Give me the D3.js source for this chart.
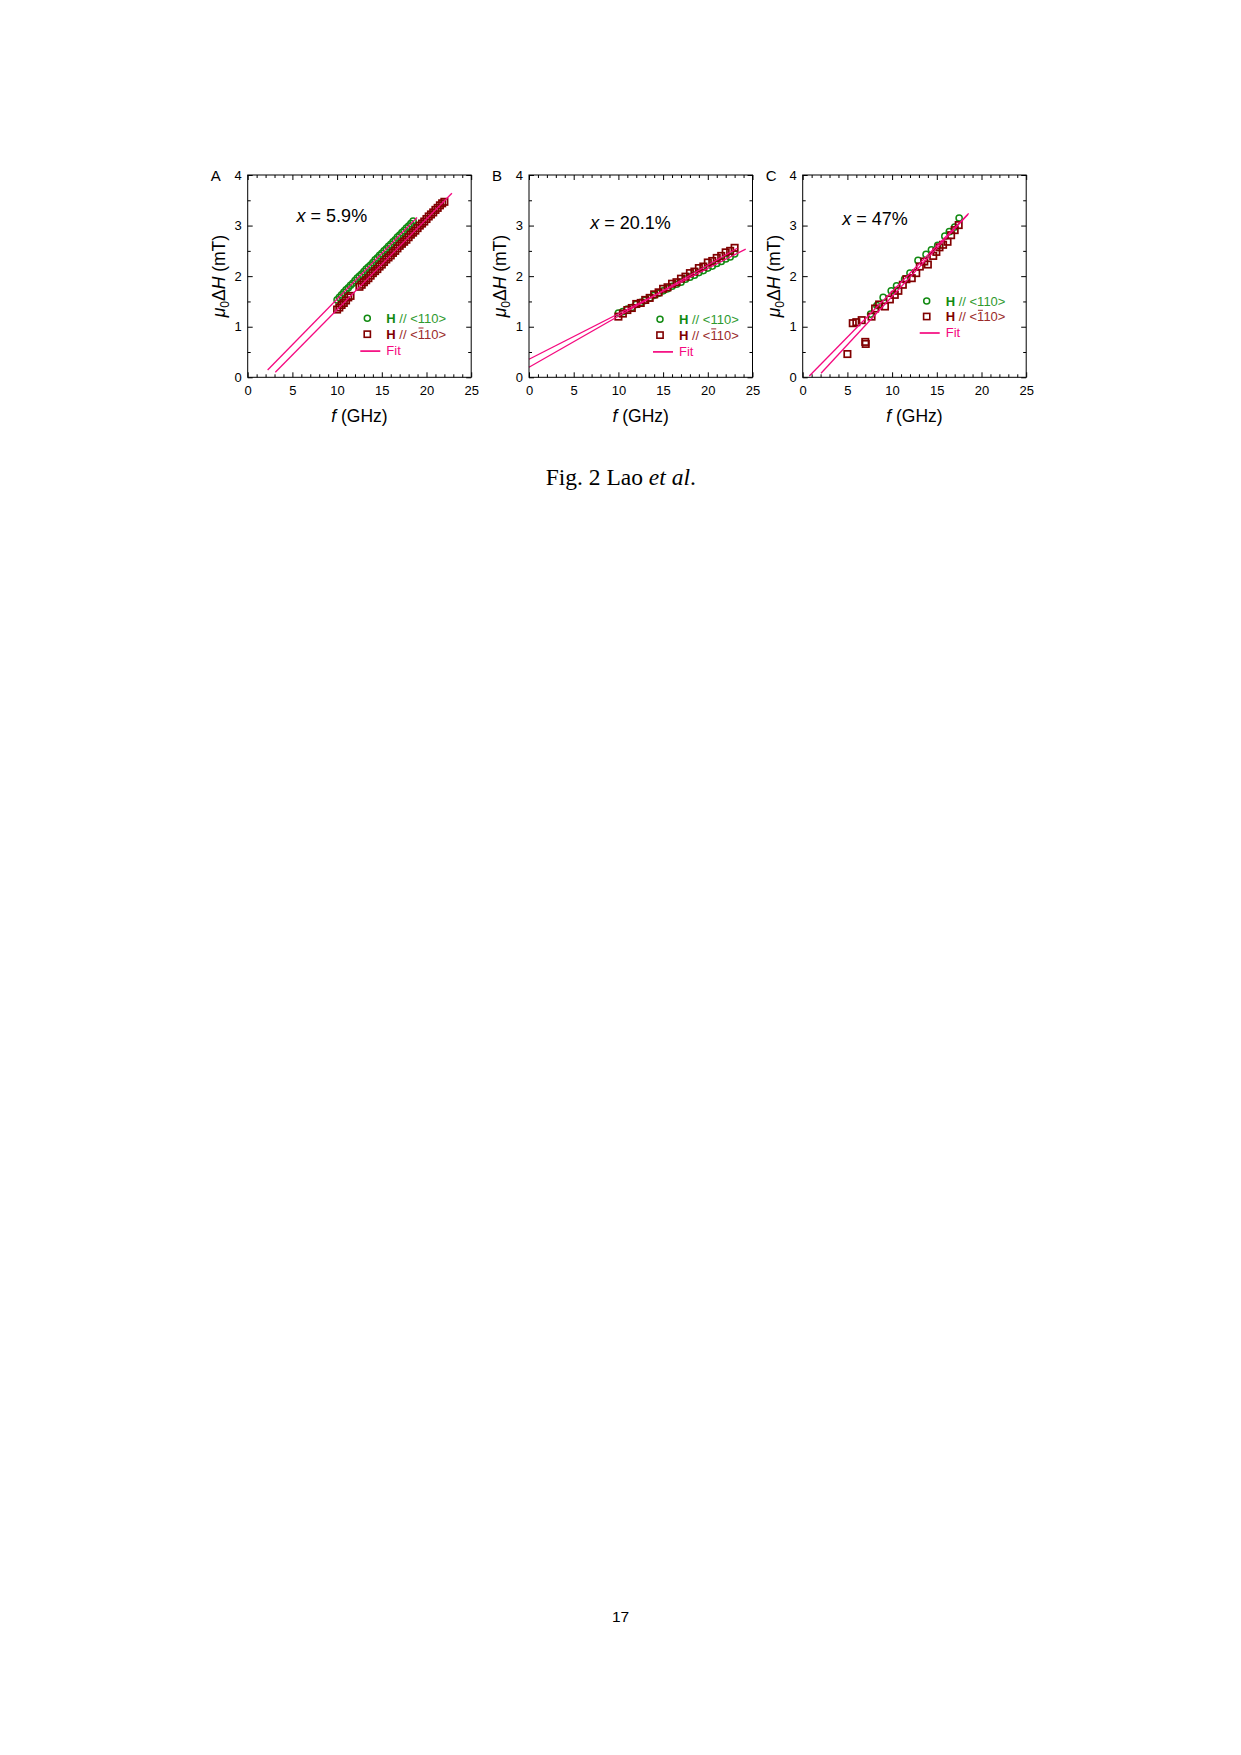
<!DOCTYPE html>
<html><head><meta charset="utf-8">
<script src="https://cdn.jsdelivr.net/npm/d3@7"></script>
<style>body{margin:0;background:#fff} svg{display:block}</style>
</head><body>
<svg id="c" width="1241" height="1755"></svg>
<script>
// ---------- data ----------
const panelLabels = ["A", "B", "C"];
const compositions = ["5.9%", "20.1%", "47%"];
const xTicks = [0, 5, 10, 15, 20, 25];
const yTicks = [0, 1, 2, 3, 4];
const legendLabels = ["<110>", "<110>", "Fit"];

// Panel A (x = 5.9%)
const fA110 = [10, 10.25, 10.5, 10.75, 11, 11.25, 11.5, 11.75, 12, 12.25, 12.5, 12.75, 13, 13.25, 13.5, 13.75, 14, 14.25, 14.5, 14.75, 15, 15.25, 15.5, 15.75, 16, 16.25, 16.5, 16.75, 17, 17.25, 17.5, 17.75, 18, 18.25, 18.5];
const dHA110 = [1.53, 1.58, 1.63, 1.68, 1.73, 1.77, 1.82, 1.86, 1.91, 1.96, 2.00, 2.04, 2.09, 2.14, 2.18, 2.22, 2.27, 2.32, 2.36, 2.41, 2.45, 2.50, 2.54, 2.59, 2.63, 2.68, 2.72, 2.77, 2.81, 2.86, 2.90, 2.95, 2.99, 3.04, 3.09];
const fA1b10 = [10, 10.25, 10.5, 10.75, 11, 11.25, 11.5, 12.5, 12.75, 13, 13.25, 13.5, 13.75, 14, 14.25, 14.5, 14.75, 15, 15.25, 15.5, 15.75, 16, 16.25, 16.5, 16.75, 17, 17.25, 17.5, 17.75, 18, 18.25, 18.5, 18.75, 19, 19.25, 19.5, 19.75, 20, 20.25, 20.5, 20.75, 21, 21.25, 21.5, 21.75, 22];
const dHA1b10 = [1.34, 1.38, 1.43, 1.47, 1.52, 1.58, 1.61, 1.79, 1.83, 1.88, 1.92, 1.96, 2.01, 2.06, 2.10, 2.14, 2.19, 2.23, 2.28, 2.33, 2.37, 2.41, 2.46, 2.50, 2.55, 2.60, 2.64, 2.68, 2.72, 2.77, 2.82, 2.86, 2.90, 2.95, 3.00, 3.04, 3.08, 3.13, 3.18, 3.22, 3.26, 3.31, 3.35, 3.40, 3.44, 3.47];

// Panel B (x = 20.1%)
const fB110 = [10, 10.5, 11, 11.5, 12, 12.5, 13, 13.5, 14, 14.5, 15, 15.5, 16, 16.5, 17, 17.5, 18, 18.5, 19, 19.5, 20, 20.5, 21, 21.5, 22, 22.5, 23];
const dHB110 = [1.27, 1.30, 1.35, 1.38, 1.44, 1.48, 1.52, 1.57, 1.62, 1.66, 1.71, 1.75, 1.80, 1.84, 1.88, 1.94, 1.98, 2.02, 2.07, 2.11, 2.16, 2.20, 2.25, 2.29, 2.34, 2.38, 2.44];
const fB1b10 = [10, 10.5, 11, 11.5, 12, 12.5, 13, 13.5, 14, 14.5, 15, 15.5, 16, 16.5, 17, 17.5, 18, 18.5, 19, 19.5, 20, 20.5, 21, 21.5, 22, 22.5, 23];
const dHB1b10 = [1.20, 1.26, 1.33, 1.37, 1.45, 1.47, 1.53, 1.57, 1.64, 1.68, 1.75, 1.78, 1.85, 1.88, 1.95, 1.99, 2.06, 2.09, 2.16, 2.19, 2.27, 2.30, 2.36, 2.40, 2.47, 2.50, 2.56];

// Panel C (x = 47%)
const fC110 = [7.6, 8.3, 9.0, 9.9, 10.5, 11.4, 12.0, 12.9, 13.8, 14.4, 15.1, 15.9, 16.4, 17.0, 17.5];
const dHC110 = [1.25, 1.42, 1.58, 1.71, 1.81, 1.94, 2.06, 2.31, 2.43, 2.52, 2.61, 2.79, 2.88, 2.97, 3.15];
const fC1b10 = [5.0, 5.6, 6.0, 6.6, 7.0, 7.05, 7.7, 8.1, 8.55, 9.2, 9.75, 10.3, 10.7, 11.2, 11.6, 12.2, 12.7, 13.1, 13.6, 14.0, 14.6, 14.95, 15.3, 15.7, 16.2, 16.6, 17.0, 17.45];
const dHC1b10 = [0.46, 1.07, 1.09, 1.13, 0.70, 0.66, 1.20, 1.36, 1.44, 1.40, 1.54, 1.63, 1.71, 1.83, 1.94, 1.96, 2.06, 2.19, 2.29, 2.23, 2.40, 2.48, 2.57, 2.62, 2.68, 2.81, 2.91, 3.01];

// Linear fits (slope in mT/GHz, intercept in mT, drawn frequency range in GHz)
const fitSlope110 = [0.1805, 0.0899, 0.1804];
const fitIntercept110 = [-0.258, 0.356, -0.107];
const fitRange110 = [[2.23, 18.94], [0, 24.24], [0.74, 18.56]];
const fitSlope1b10 = [0.1792, 0.101, 0.191];
const fitIntercept1b10 = [-0.455, 0.198, -0.312];
const fitRange1b10 = [[3.09, 22.84], [0, 23.3], [2.05, 18.5]];

const series110 = [[fA110, dHA110], [fB110, dHB110], [fC110, dHC110]];
const series1b10 = [[fA1b10, dHA1b10], [fB1b10, dHB1b10], [fC1b10, dHC1b10]];

// ---------- layout ----------
const panelLeft = [247.7, 529, 802.7];
const plotW = 223.5, plotTop = 175, plotBottom = 377.3;
const annotPos = [[5.47, 3.07], [6.85, 2.94], [4.42, 3.01]];   // in data units
const legendPos = [[119.6, 318.3], [131, 319.3], [124, 301]];   // px offsets
const legendRowGap = [15.9, 15.8, 15.5];

const GREEN = "#118a11", DRED = "#800000", PINK = "#f5097f";
const SANS = "'Liberation Sans', Arial, sans-serif";

const svg = d3.select("#c");
svg.append("rect").attr("width", 1241).attr("height", 1755).attr("fill", "#fff");

panelLabels.forEach((lab, i) => {
  const x0 = panelLeft[i];
  const x = d3.scaleLinear().domain([0, 25]).range([x0, x0 + plotW]);
  const y = d3.scaleLinear().domain([0, 4]).range([plotBottom, plotTop]);
  const g = svg.append("g").attr("font-family", SANS);

  // data markers
  const [f1, v1] = series110[i];
  g.append("g").selectAll("circle").data(f1.map((f, k) => [f, v1[k]])).join("circle")
    .attr("cx", d => x(d[0])).attr("cy", d => y(d[1])).attr("r", 3.1)
    .attr("fill", "none").attr("stroke", GREEN).attr("stroke-width", 1.5);
  const [f2, v2] = series1b10[i];
  const s = 6.4;
  g.append("g").selectAll("rect").data(f2.map((f, k) => [f, v2[k]])).join("rect")
    .attr("x", d => x(d[0]) - s / 2).attr("y", d => y(d[1]) - s / 2)
    .attr("width", s).attr("height", s)
    .attr("fill", "none").attr("stroke", DRED).attr("stroke-width", 1.7);

  // fit lines
  const fits = [
    [fitSlope110[i], fitIntercept110[i], fitRange110[i]],
    [fitSlope1b10[i], fitIntercept1b10[i], fitRange1b10[i]]
  ];
  const line = d3.line().x(d => x(d[0])).y(d => y(d[1]));
  fits.forEach(([m, b, r]) => {
    g.append("path").attr("d", line(r.map(f => [f, b + m * f])))
      .attr("fill", "none").attr("stroke", PINK).attr("stroke-width", 1.3);
  });

  // axes (inward ticks on all four sides)
  const minorX = d3.range(0, 26, 1).filter(v => v % 5 !== 0);
  const minorY = d3.range(0.5, 4, 1);
  const addAxis = (axis, tr) => {
    const a = g.append("g").attr("transform", tr).call(axis);
    a.select(".domain").remove();
    a.selectAll("line").attr("stroke", "#000").attr("stroke-width", 1);
    a.selectAll("text").attr("font-size", 13).attr("fill", "#000").attr("font-family", SANS);
    return a;
  };
  addAxis(d3.axisBottom(x).tickValues(xTicks).tickSize(-5).tickPadding(8.3), `translate(0,${plotBottom})`);
  addAxis(d3.axisBottom(x).tickValues(minorX).tickSize(-3).tickFormat(""), `translate(0,${plotBottom})`);
  addAxis(d3.axisTop(x).tickValues(xTicks).tickSize(-5).tickFormat(""), `translate(0,${plotTop})`);
  addAxis(d3.axisTop(x).tickValues(minorX).tickSize(-3).tickFormat(""), `translate(0,${plotTop})`);
  addAxis(d3.axisLeft(y).tickValues(yTicks).tickSize(-5).tickPadding(6).tickFormat(d3.format("d")), `translate(${x0},0)`);
  addAxis(d3.axisLeft(y).tickValues(minorY).tickSize(-3).tickFormat(""), `translate(${x0},0)`);
  addAxis(d3.axisRight(y).tickValues(yTicks).tickSize(-5).tickFormat(""), `translate(${x0 + plotW},0)`);
  addAxis(d3.axisRight(y).tickValues(minorY).tickSize(-3).tickFormat(""), `translate(${x0 + plotW},0)`);

  g.append("rect").attr("x", x0).attr("y", plotTop).attr("width", plotW).attr("height", plotBottom - plotTop)
    .attr("fill", "none").attr("stroke", "#000").attr("stroke-width", 1);

  // panel label
  g.append("text").attr("x", x0 - 37).attr("y", 181).attr("font-size", 15).text(lab);

  // x title
  const xt = g.append("text").attr("x", x0 + plotW / 2).attr("y", 421.7)
    .attr("text-anchor", "middle").attr("font-size", 17.5);
  xt.append("tspan").attr("font-style", "italic").text("f");
  xt.append("tspan").text(" (GHz)");

  // y title
  const yt = g.append("text").attr("transform", `translate(${x0 - 23},${(plotTop + plotBottom) / 2}) rotate(-90)`)
    .attr("text-anchor", "middle").attr("font-size", 17.5);
  yt.append("tspan").attr("font-style", "italic").text("μ");
  yt.append("tspan").attr("font-size", 12).attr("dy", 4).text("0");
  yt.append("tspan").attr("dy", -4).text("Δ");
  yt.append("tspan").attr("font-style", "italic").text("H");
  yt.append("tspan").text(" (mT)");

  // composition annotation
  const at = g.append("text").attr("x", x(annotPos[i][0])).attr("y", y(annotPos[i][1])).attr("font-size", 18);
  at.append("tspan").attr("font-style", "italic").text("x");
  at.append("tspan").text(" = " + compositions[i]);

  // legend
  const [lx, ly] = legendPos[i];
  const gap = legendRowGap[i];
  const cx = x0 + lx;
  const tx = cx + 19;
  g.append("circle").attr("cx", cx).attr("cy", ly).attr("r", 3.0)
    .attr("fill", "none").attr("stroke", GREEN).attr("stroke-width", 1.5);
  const t1 = g.append("text").attr("x", tx).attr("y", ly + 4.6).attr("font-size", 13).attr("fill", GREEN);
  t1.append("tspan").attr("font-weight", "bold").text("H");
  t1.append("tspan").attr("fill", "#2e9a2e").text(" // " + legendLabels[0]);

  g.append("rect").attr("x", cx - 3.1).attr("y", ly + gap - 3.1).attr("width", 6.2).attr("height", 6.2)
    .attr("fill", "none").attr("stroke", DRED).attr("stroke-width", 1.6);
  const t2 = g.append("text").attr("x", tx).attr("y", ly + gap + 4.6).attr("font-size", 13).attr("fill", DRED);
  t2.append("tspan").attr("font-weight", "bold").text("H");
  t2.append("tspan").attr("fill", "#9a2a2a").text(" // " + legendLabels[1]);
  // overline on the first "1" of <110> (index: "H" + " // <" = 6)
  try {
    const ext = t2.node().getExtentOfChar(6);
    g.append("line").attr("x1", ext.x + 0.8).attr("x2", ext.x + ext.width - 0.5)
      .attr("y1", ext.y + 1.2).attr("y2", ext.y + 1.2)
      .attr("stroke", "#9a2a2a").attr("stroke-width", 1);
  } catch (e) {}

  g.append("line").attr("x1", cx - 7).attr("x2", cx + 13).attr("y1", ly + 2 * gap + 1).attr("y2", ly + 2 * gap + 1)
    .attr("stroke", PINK).attr("stroke-width", 1.7);
  g.append("text").attr("x", tx).attr("y", ly + 2 * gap + 5.3).attr("font-size", 13).attr("fill", PINK).text(legendLabels[2]);
});

// caption
const cap = svg.append("text").attr("x", 620.8).attr("y", 485).attr("text-anchor", "middle")
  .attr("font-family", "'Liberation Serif', 'Times New Roman', serif").attr("font-size", 23.5);
cap.append("tspan").text("Fig. 2 Lao ");
cap.append("tspan").attr("font-style", "italic").text("et al");
cap.append("tspan").text(".");

// page number
svg.append("text").attr("x", 620.5).attr("y", 1621.7).attr("text-anchor", "middle")
  .attr("font-family", "'Liberation Sans', Arial, sans-serif").attr("font-size", 15.5).text("17");
</script>
</body></html>
